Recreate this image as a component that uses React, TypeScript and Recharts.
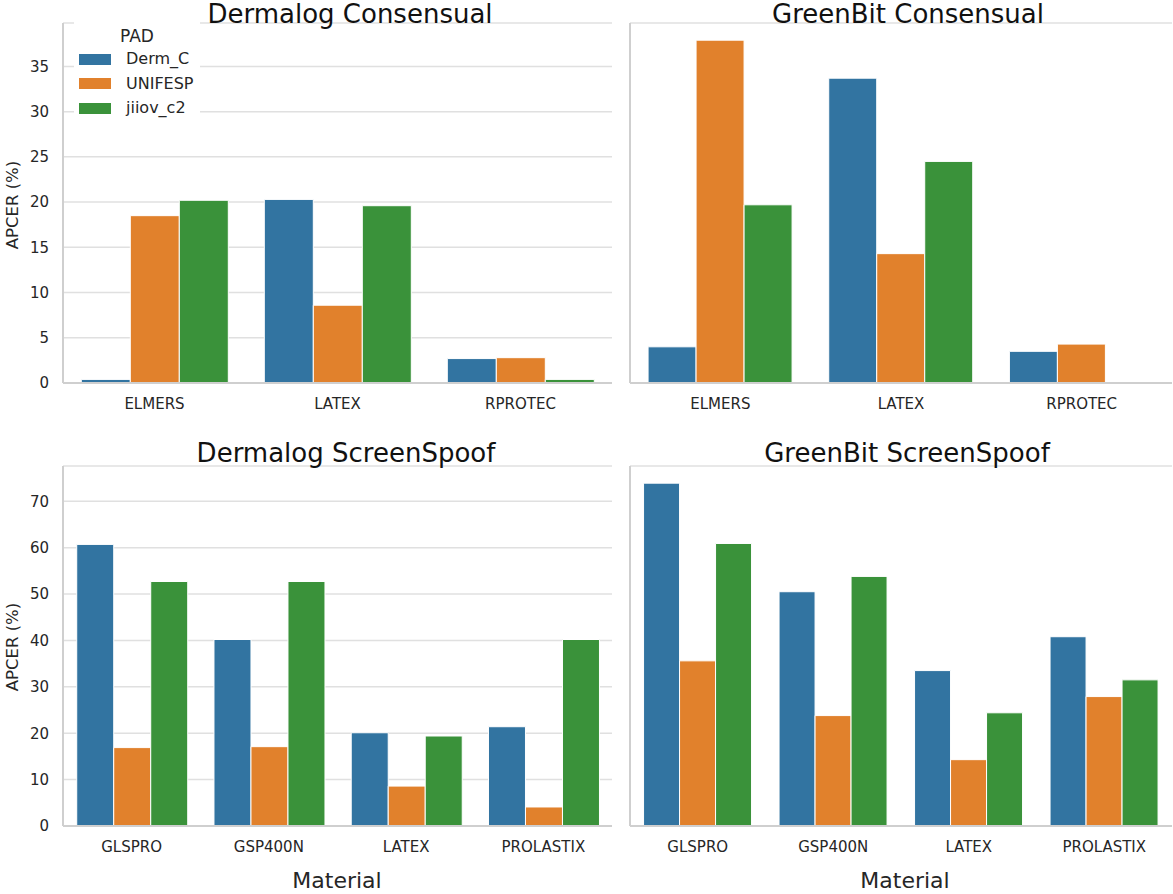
import { BarChart, Bar, XAxis, YAxis, CartesianGrid, Legend } from "recharts";

const pads = ["Derm_C", "UNIFESP", "jiiov_c2"];
const padColors = ["#3274a1", "#e1812c", "#3a923a"];

const consensualMaterials = ["ELMERS", "LATEX", "RPROTEC"];
const screenMaterials = ["GLSPRO", "GSP400N", "LATEX", "PROLASTIX"];

// APCER (%) per PAD, one value per material
const dermalogConsDermC = [0.4, 20.3, 2.7];
const dermalogConsUnifesp = [18.5, 8.6, 2.8];
const dermalogConsJiiov = [20.2, 19.6, 0.4];

const greenbitConsDermC = [4.0, 33.7, 3.5];
const greenbitConsUnifesp = [37.9, 14.3, 4.3];
const greenbitConsJiiov = [19.7, 24.5, 0];

const dermalogScreenDermC = [60.7, 40.2, 20.1, 21.4];
const dermalogScreenUnifesp = [16.9, 17.1, 8.6, 4.1];
const dermalogScreenJiiov = [52.7, 52.7, 19.4, 40.2];

const greenbitScreenDermC = [73.9, 50.5, 33.5, 40.8];
const greenbitScreenUnifesp = [35.6, 23.8, 14.3, 27.9];
const greenbitScreenJiiov = [60.9, 53.8, 24.4, 31.5];

const consensualTicks = [0, 5, 10, 15, 20, 25, 30, 35];
const screenTicks = [0, 10, 20, 30, 40, 50, 60, 70];

const FONT = "'DejaVu Sans', sans-serif";
const TEXT = "#262626";

const toRows = (materials: string[], ...series: number[][]) =>
  materials.map((m, i) => {
    const row: Record<string, string | number> = { material: m };
    pads.forEach((p, k) => {
      row[p] = series[k][i];
    });
    return row;
  });

const PadLegend = () => (
  <div style={{ position: "relative", width: 126, height: 100, background: "#fff", fontFamily: FONT, color: TEXT }}>
    <div style={{ position: "absolute", left: 0, width: 126, top: 4, textAlign: "center", fontSize: 17 }}>PAD</div>
    {pads.map((p, i) => (
      <div key={p} style={{ position: "absolute", left: 5, top: 28 + i * 24.7, height: 18, display: "flex", alignItems: "center" }}>
        <span style={{ display: "inline-block", width: 32, height: 11, background: padColors[i] }} />
        <span style={{ marginLeft: 15, fontSize: 16, lineHeight: "18px" }}>{p}</span>
      </div>
    ))}
  </div>
);

type PanelProps = {
  data: Record<string, string | number>[];
  ticks: number[];
  ymax: number;
  width: number;
  height: number;
  top: number;
  axisWidth: number;
  xAxisHeight: number;
  showYTicks: boolean;
  legend?: boolean;
};

const Panel = ({ data, ticks, ymax, width, height, top, axisWidth, xAxisHeight, showYTicks, legend }: PanelProps) => (
  <BarChart
    width={width}
    height={height}
    data={data}
    margin={{ top, right: 1, left: 0, bottom: 0 }}
    barCategoryGap="10%"
    barGap={0}
  >
    <CartesianGrid vertical={false} stroke="#e0e0e0" strokeWidth={1.5} />
    <XAxis
      dataKey="material"
      height={xAxisHeight}
      tickLine={false}
      tickSize={0}
      tickMargin={15}
      axisLine={{ stroke: "#cfcfcf", strokeWidth: 2 }}
      tick={{ fill: TEXT, fontSize: 15, fontFamily: FONT }}
      interval={0}
    />
    <YAxis
      width={axisWidth}
      domain={[0, ymax]}
      ticks={ticks}
      tickLine={false}
      tickSize={0}
      tickMargin={14}
      axisLine={{ stroke: "#cfcfcf", strokeWidth: 2 }}
      tick={showYTicks ? { fill: TEXT, fontSize: 15, fontFamily: FONT } : false}
    />
    {legend && (
      <Legend
        layout="vertical"
        align="center"
        verticalAlign="middle"
        wrapperStyle={{ left: 74, top: 22, width: 126, height: 100 }}
        content={() => <PadLegend />}
      />
    )}
    {pads.map((p, i) => (
      <Bar key={p} dataKey={p} fill={padColors[i]} stroke="#fff" strokeWidth={1} isAnimationActive={false} />
    ))}
  </BarChart>
);

const titleStyle = { fontSize: 26, fill: "#111", fontFamily: FONT };
const labelStyle = { fontSize: 22, fill: TEXT, fontFamily: FONT };
const ylabelStyle = { fontSize: 16.5, fill: TEXT, fontFamily: FONT };

export default function App() {
  return (
    <div style={{ position: "absolute", left: 0, top: 0, width: 1173, height: 894, background: "#fff" }}>
      <div style={{ position: "absolute", left: 0, top: 0 }}>
        <Panel
          data={toRows(consensualMaterials, dermalogConsDermC, dermalogConsUnifesp, dermalogConsJiiov)}
          ticks={consensualTicks}
          ymax={39.8}
          width={613}
          height={430}
          top={23}
          axisWidth={63}
          xAxisHeight={47}
          showYTicks
          legend
        />
      </div>
      <div style={{ position: "absolute", left: 600, top: 0 }}>
        <Panel
          data={toRows(consensualMaterials, greenbitConsDermC, greenbitConsUnifesp, greenbitConsJiiov)}
          ticks={consensualTicks}
          ymax={39.8}
          width={573}
          height={430}
          top={23}
          axisWidth={30}
          xAxisHeight={47}
          showYTicks={false}
        />
      </div>
      <div style={{ position: "absolute", left: 0, top: 440 }}>
        <Panel
          data={toRows(screenMaterials, dermalogScreenDermC, dermalogScreenUnifesp, dermalogScreenJiiov)}
          ticks={screenTicks}
          ymax={77.6}
          width={613}
          height={454}
          top={26}
          axisWidth={63}
          xAxisHeight={68}
          showYTicks
        />
      </div>
      <div style={{ position: "absolute", left: 600, top: 440 }}>
        <Panel
          data={toRows(screenMaterials, greenbitScreenDermC, greenbitScreenUnifesp, greenbitScreenJiiov)}
          ticks={screenTicks}
          ymax={77.6}
          width={573}
          height={454}
          top={26}
          axisWidth={30}
          xAxisHeight={68}
          showYTicks={false}
        />
      </div>
      <svg width={1173} height={894} style={{ position: "absolute", left: 0, top: 0, pointerEvents: "none" }}>
        <text x={350} y={23} textAnchor="middle" style={titleStyle}>Dermalog Consensual</text>
        <text x={908} y={23} textAnchor="middle" style={titleStyle}>GreenBit Consensual</text>
        <text x={346} y={462} textAnchor="middle" style={titleStyle}>Dermalog ScreenSpoof</text>
        <text x={907} y={462} textAnchor="middle" style={titleStyle}>GreenBit ScreenSpoof</text>
        <text x={337} y={888} textAnchor="middle" style={labelStyle}>Material</text>
        <text x={905} y={888} textAnchor="middle" style={labelStyle}>Material</text>
        <text x={18} y={205} textAnchor="middle" transform="rotate(-90 18 205)" style={ylabelStyle}>APCER (%)</text>
        <text x={18} y={647} textAnchor="middle" transform="rotate(-90 18 647)" style={ylabelStyle}>APCER (%)</text>
      </svg>
    </div>
  );
}
